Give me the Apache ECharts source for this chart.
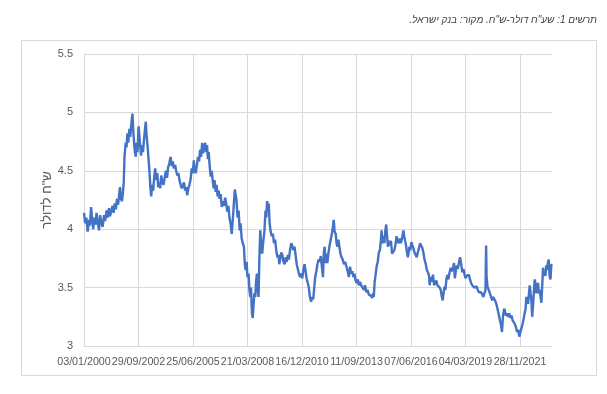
<!DOCTYPE html>
<html><head><meta charset="utf-8">
<script src="https://cdn.jsdelivr.net/npm/echarts@6/dist/echarts.min.js"></script>
<style>html,body{margin:0;padding:0;background:#fff}#c{width:607px;height:394px}</style>
</head><body><div id="c"></div>
<script>
const titleText = '\u202Bתרשים 1: שע"ח דולר-ש"ח. מקור: בנק ישראל.\u202C';
const yName = 'ש"ח לדולר';
const startDate = '2000-01-03';
const endDate = '2023-07-08';
const yTicks = [3, 3.5, 4, 4.5, 5, 5.5];
const dates = [
'2000-01-03','2000-01-25','2000-02-15','2000-03-10','2000-04-05','2000-04-20','2000-05-12','2000-06-01','2000-06-20','2000-07-10','2000-08-01','2000-08-20','2000-09-10','2000-10-05','2000-10-25','2000-11-15','2000-12-10',
'2001-01-05','2001-01-25','2001-02-20','2001-03-15','2001-04-05','2001-04-25','2001-05-20','2001-06-10','2001-06-30','2001-07-20','2001-08-10','2001-08-30','2001-09-20','2001-10-10','2001-10-25','2001-11-10','2001-11-30','2001-12-15',
'2002-01-01','2002-01-15','2002-02-05','2002-02-20','2002-03-10','2002-03-25','2002-04-15','2002-05-01','2002-05-20','2002-06-10','2002-06-25','2002-07-10','2002-07-25','2002-08-10','2002-08-25','2002-09-10','2002-10-01','2002-10-15','2002-11-01','2002-11-15','2002-12-01','2002-12-20',
'2003-01-10','2003-01-25','2003-02-10','2003-02-25','2003-03-15','2003-04-01','2003-04-20','2003-05-05','2003-05-20','2003-06-05','2003-06-25','2003-07-15','2003-08-01','2003-08-20','2003-09-10','2003-09-25','2003-10-15','2003-11-01','2003-11-20','2003-12-10',
'2004-01-01','2004-01-25','2004-02-15','2004-03-05','2004-03-25','2004-04-15','2004-05-10','2004-06-01','2004-06-20','2004-07-10','2004-08-01','2004-08-20','2004-09-10','2004-10-01','2004-10-20','2004-11-10','2004-12-01','2004-12-20',
'2005-01-10','2005-02-01','2005-02-20','2005-03-10','2005-04-01','2005-04-20','2005-05-10','2005-06-01','2005-06-20','2005-07-10','2005-07-25','2005-08-15','2005-09-05','2005-09-25','2005-10-15','2005-11-01','2005-11-20','2005-12-10','2005-12-25',
'2006-01-15','2006-02-05','2006-02-20','2006-03-10','2006-03-25','2006-04-10','2006-04-25','2006-05-15','2006-06-05','2006-06-20','2006-07-10','2006-07-25','2006-08-15','2006-09-01','2006-09-20','2006-10-10','2006-10-25','2006-11-15','2006-12-05','2006-12-25',
'2007-01-15','2007-02-05','2007-02-25','2007-03-15','2007-04-05','2007-04-25','2007-05-15','2007-06-05','2007-06-25','2007-07-15','2007-08-01','2007-08-15','2007-09-01','2007-09-20','2007-10-10','2007-10-30','2007-11-15','2007-12-05','2007-12-25',
'2008-01-15','2008-02-01','2008-02-15','2008-03-05','2008-03-20','2008-04-10','2008-04-25','2008-05-10','2008-05-25','2008-06-10','2008-06-25','2008-07-10','2008-07-25','2008-08-10','2008-08-25','2008-09-10','2008-09-25','2008-10-10','2008-10-25','2008-11-10','2008-11-25','2008-12-15',
'2009-01-05','2009-01-25','2009-02-15','2009-03-01','2009-03-15','2009-04-01','2009-04-15','2009-05-01','2009-05-20','2009-06-10','2009-07-01','2009-07-20','2009-08-10','2009-08-30','2009-09-20','2009-10-10','2009-10-25','2009-11-10','2009-12-01','2009-12-20',
'2010-01-10','2010-02-01','2010-02-20','2010-03-10','2010-04-01','2010-04-20','2010-05-10','2010-06-01','2010-06-20','2010-07-10','2010-08-01','2010-08-20','2010-09-10','2010-10-01','2010-10-20','2010-11-10','2010-12-01','2010-12-20',
'2011-01-10','2011-02-01','2011-02-20','2011-03-10','2011-04-01','2011-04-20','2011-05-10','2011-06-01','2011-06-20','2011-07-10','2011-07-25','2011-08-15','2011-09-05','2011-09-25','2011-10-15','2011-11-05','2011-11-25','2011-12-15',
'2012-01-05','2012-01-20','2012-02-05','2012-02-20','2012-03-10','2012-03-25','2012-04-15','2012-05-05','2012-05-25','2012-06-15','2012-07-05','2012-07-20','2012-08-05','2012-08-25','2012-09-10','2012-09-25','2012-10-15','2012-11-01','2012-11-20','2012-12-10',
'2013-01-01','2013-01-25','2013-02-15','2013-03-10','2013-04-01','2013-04-25','2013-05-15','2013-06-05','2013-06-25','2013-07-15','2013-08-05','2013-08-25','2013-09-15','2013-10-05','2013-10-25','2013-11-15','2013-12-05',
'2014-01-01','2014-01-25','2014-02-15','2014-03-10','2014-04-01','2014-04-25','2014-05-15','2014-06-05','2014-06-25','2014-07-10','2014-07-25','2014-08-10','2014-08-25','2014-09-15','2014-10-05','2014-10-25','2014-11-15','2014-12-01','2014-12-15',
'2015-01-01','2015-01-20','2015-02-05','2015-02-20','2015-03-10','2015-03-25','2015-04-10','2015-04-25','2015-05-15','2015-06-05','2015-06-25','2015-07-15','2015-08-05','2015-08-25','2015-09-15','2015-10-05','2015-10-25','2015-11-15','2015-12-05',
'2016-01-01','2016-01-20','2016-02-10','2016-03-01','2016-03-20','2016-04-10','2016-04-25','2016-05-10','2016-05-25','2016-06-15','2016-07-01','2016-07-20','2016-08-10','2016-09-01','2016-09-20','2016-10-10','2016-11-01','2016-11-20','2016-12-10',
'2017-01-01','2017-01-20','2017-02-10','2017-03-05','2017-03-25','2017-04-15','2017-05-05','2017-05-15','2017-06-05','2017-06-25','2017-07-15','2017-08-05','2017-08-25','2017-09-15','2017-10-05','2017-10-25','2017-11-15','2017-12-05','2017-12-25',
'2018-01-10','2018-01-25','2018-02-15','2018-03-01','2018-03-20','2018-04-10','2018-04-25','2018-05-15','2018-06-05','2018-06-25','2018-07-15','2018-08-05','2018-08-20','2018-09-10','2018-09-25','2018-10-15','2018-11-05','2018-11-25','2018-12-15',
'2019-01-05','2019-01-25','2019-02-15','2019-03-05','2019-03-25','2019-04-15','2019-05-05','2019-05-25','2019-06-15','2019-07-05','2019-07-25','2019-08-15','2019-09-05','2019-09-25','2019-10-15','2019-11-05','2019-11-25','2019-12-15',
'2020-01-05','2020-01-25','2020-02-20','2020-03-05','2020-03-16','2020-03-25','2020-04-10','2020-04-25','2020-05-10','2020-05-25','2020-06-15','2020-07-05','2020-07-25','2020-08-15','2020-09-05','2020-09-25','2020-10-15','2020-11-05','2020-11-25','2020-12-15',
'2021-01-01','2021-01-20','2021-02-10','2021-02-25','2021-03-15','2021-04-05','2021-04-25','2021-05-15','2021-06-05','2021-06-25','2021-07-15','2021-08-05','2021-08-25','2021-09-15','2021-10-05','2021-10-25','2021-11-15','2021-12-05','2021-12-25',
'2022-01-15','2022-02-05','2022-02-25','2022-03-10','2022-03-25','2022-04-10','2022-04-25','2022-05-10','2022-05-25','2022-06-10','2022-06-25','2022-07-10','2022-07-25','2022-08-10','2022-08-25','2022-09-10','2022-09-25','2022-10-10','2022-10-25','2022-11-10','2022-11-25','2022-12-10','2022-12-25',
'2023-01-10','2023-01-25','2023-02-10','2023-02-25','2023-03-10','2023-03-25','2023-04-10','2023-04-25','2023-05-10','2023-05-25','2023-06-10','2023-06-25','2023-07-08'
];
const rates = [
4.14,4.05,4.10,3.98,4.08,4.03,4.19,4.08,4.00,4.10,4.04,4.14,4.06,3.99,4.12,4.06,4.02,
4.12,4.07,4.16,4.10,4.18,4.11,4.16,4.20,4.14,4.22,4.17,4.26,4.21,4.30,4.36,4.26,4.24,4.30,
4.40,4.62,4.74,4.70,4.82,4.74,4.86,4.79,4.90,4.99,4.84,4.74,4.66,4.62,4.74,4.66,4.88,4.80,4.70,4.63,4.72,4.66,
4.78,4.85,4.92,4.80,4.71,4.60,4.48,4.36,4.28,4.38,4.33,4.45,4.52,4.42,4.48,4.36,4.40,4.35,4.46,4.40,
4.38,4.45,4.50,4.44,4.53,4.56,4.62,4.54,4.58,4.52,4.55,4.50,4.46,4.48,4.42,4.38,4.35,4.36,
4.40,4.33,4.36,4.29,4.35,4.38,4.42,4.52,4.48,4.59,4.50,4.48,4.55,4.62,4.58,4.68,4.62,4.74,4.65,
4.70,4.74,4.66,4.72,4.60,4.66,4.55,4.45,4.50,4.42,4.35,4.42,4.32,4.38,4.28,4.33,4.26,4.30,4.19,4.24,
4.20,4.27,4.22,4.15,4.20,4.10,4.05,3.96,4.08,4.22,4.34,4.30,4.25,4.10,4.16,3.99,4.05,3.92,3.88,
3.85,3.70,3.65,3.72,3.59,3.62,3.48,3.42,3.50,3.28,3.24,3.35,3.45,3.42,3.55,3.62,3.48,3.42,3.75,3.99,3.88,3.79,
3.90,3.98,4.16,4.10,4.24,4.20,4.22,4.05,3.98,3.94,3.96,3.88,3.91,3.82,3.76,3.78,3.70,3.69,3.80,3.78,
3.72,3.70,3.76,3.72,3.78,3.74,3.82,3.88,3.86,3.82,3.85,3.78,3.70,3.69,3.62,3.59,3.62,3.58,
3.65,3.70,3.64,3.58,3.54,3.50,3.42,3.38,3.42,3.40,3.48,3.59,3.64,3.70,3.74,3.72,3.77,3.76,
3.59,3.80,3.85,3.71,3.79,3.71,3.80,3.86,3.91,3.96,4.02,4.08,3.98,3.96,3.88,3.85,3.91,3.85,3.79,3.76,
3.74,3.70,3.72,3.68,3.64,3.59,3.68,3.62,3.64,3.59,3.62,3.56,3.54,3.57,3.52,3.55,3.52,
3.50,3.48,3.52,3.46,3.48,3.44,3.45,3.43,3.41,3.45,3.42,3.55,3.60,3.68,3.72,3.80,3.82,3.90,3.99,
3.88,3.94,3.88,3.98,4.04,3.95,3.85,3.90,3.86,3.90,3.79,3.80,3.82,3.86,3.94,3.90,3.88,3.92,3.88,
3.94,3.99,3.92,3.88,3.82,3.76,3.80,3.85,3.82,3.89,3.86,3.84,3.80,3.78,3.76,3.80,3.84,3.88,3.86,
3.84,3.80,3.74,3.70,3.65,3.63,3.60,3.52,3.59,3.55,3.61,3.52,3.51,3.56,3.52,3.52,3.50,3.48,3.42,
3.39,3.45,3.51,3.48,3.58,3.61,3.57,3.63,3.67,3.64,3.66,3.71,3.58,3.65,3.69,3.66,3.72,3.76,3.70,
3.63,3.66,3.61,3.58,3.60,3.59,3.61,3.57,3.54,3.52,3.53,3.50,3.49,3.51,3.48,3.46,3.45,3.46,
3.44,3.42,3.42,3.48,3.86,3.59,3.51,3.52,3.47,3.45,3.42,3.39,3.42,3.40,3.38,3.35,3.31,3.31,3.22,3.18,
3.12,3.26,3.32,3.30,3.26,3.28,3.25,3.28,3.24,3.26,3.22,3.21,3.19,3.16,3.12,3.14,3.08,3.12,3.15,
3.19,3.24,3.29,3.32,3.42,3.39,3.36,3.44,3.52,3.45,3.39,3.25,3.35,3.47,3.57,3.53,3.45,3.50,3.54,3.45,3.48,3.42,3.37,
3.52,3.67,3.60,3.64,3.60,3.69,3.65,3.72,3.74,3.60,3.57,3.69,3.70
];

const DAY = 86400000;
const t0 = Date.parse(startDate + 'T00:00:00Z');
const dayOf = s => Math.round((Date.parse(s + 'T00:00:00Z') - t0) / DAY);
const seriesData = dates.map((d, i) => [dayOf(d), rates[i]]);
const pad = n => (n < 10 ? '0' : '') + n;
const fmtDay = v => { const d = new Date(t0 + v * DAY); return pad(d.getUTCDate()) + '/' + pad(d.getUTCMonth() + 1) + '/' + d.getUTCFullYear(); };

const chart = echarts.init(document.getElementById('c'), null, {renderer: 'canvas'});
chart.setOption({
  animation: false,
  backgroundColor: '#fff',
  graphic: [
    {type: 'rect', shape: {x: 21.5, y: 40.5, width: 575, height: 335}, style: {fill: 'none', stroke: '#d9d9d9', lineWidth: 1}, z: -1},
    {type: 'text', right: 10, top: 15, style: {text: titleText, font: 'italic 10px "Liberation Sans", "DejaVu Sans", sans-serif', fill: '#404040', align: 'right'}}
  ],
  grid: {left: 84, right: 55, top: 54, bottom: 48, containLabel: false},
  xAxis: {
    type: 'value', min: 0, max: dayOf(endDate), interval: 1000,
    axisLine: {show: true, lineStyle: {color: '#d9d9d9', width: 1}},
    axisTick: {show: false},
    axisLabel: {color: '#595959', fontSize: 10.7, fontFamily: '"Liberation Sans", sans-serif', margin: 11, showMinLabel: true, showMaxLabel: false, hideOverlap: false,
      formatter: v => (v % 1000 === 0 ? fmtDay(v) : '')},
    splitLine: {show: true, showMaxLine: false, lineStyle: {color: '#d9d9d9', width: 1}}
  },
  yAxis: {
    type: 'value', min: yTicks[0], max: yTicks[yTicks.length - 1], interval: 0.5,
    name: yName, nameLocation: 'middle', nameGap: 30, nameRotate: 90, nameMoveOverlap: false,
    nameTextStyle: {color: '#595959', fontSize: 13, fontFamily: '"Liberation Sans", "DejaVu Sans", sans-serif'},
    axisLine: {show: true, lineStyle: {color: '#d9d9d9', width: 1}},
    axisTick: {show: false},
    axisLabel: {color: '#595959', fontSize: 11, fontFamily: '"Liberation Sans", sans-serif', margin: 11},
    splitLine: {show: true, lineStyle: {color: '#d9d9d9', width: 1}}
  },
  series: [{
    type: 'line', data: seriesData, showSymbol: false, symbol: 'none',
    lineStyle: {color: '#4472C4', width: 2.4}, smooth: false
  }]
});
</script></body></html>
